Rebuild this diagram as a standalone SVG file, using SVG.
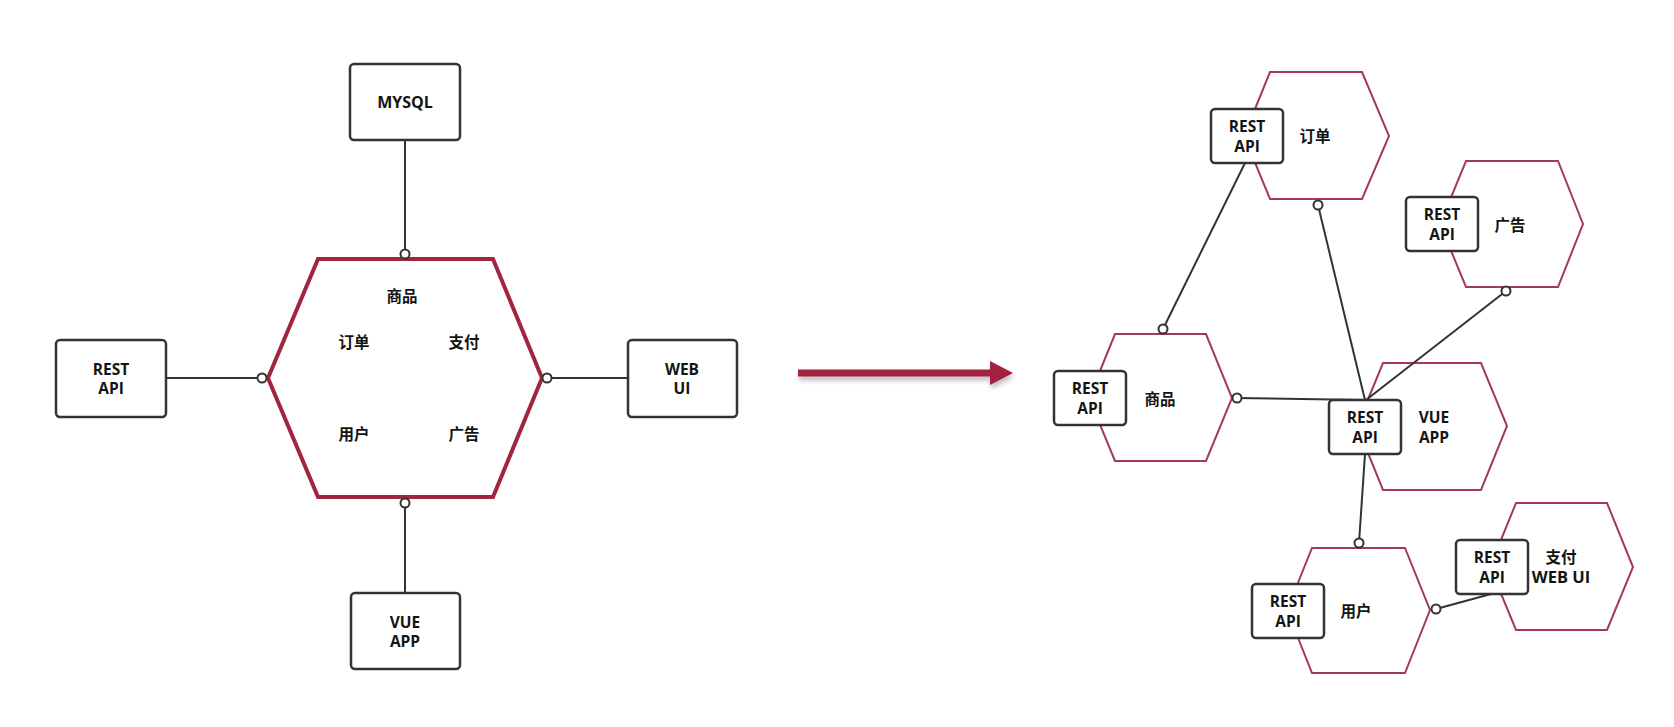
<svg xmlns="http://www.w3.org/2000/svg" width="1674" height="727" viewBox="0 0 1674 727">
  <defs>
    <style>
      .box { fill: #ffffff; stroke: #333333; stroke-width: 2.5; }
      .hex-big { fill: #ffffff; stroke: #a12440; stroke-width: 4; stroke-linejoin: miter; }
      .hex { fill: #ffffff; stroke: #a33a56; stroke-width: 2; }
      .wire { stroke: #333333; stroke-width: 2; fill: none; }
      .port { fill: #ffffff; stroke: #333333; stroke-width: 2; }
      .lbl { font-family: "Open Sans", "Noto Sans CJK SC", sans-serif; font-weight: bold; font-size: 15.5px; fill: #141414; text-anchor: middle; }
      .lbl-r { font-size: 15.5px; }
    </style>
    <filter id="softShadow" x="-10%" y="-100%" width="120%" height="300%">
      <feDropShadow dx="1" dy="4" stdDeviation="2.5" flood-color="#000000" flood-opacity="0.25"/>
    </filter>
  </defs>
  <rect width="1674" height="727" fill="#ffffff"/>

  <!-- Monolith -->
  <g id="monolith">
    <polygon class="hex-big" points="268,378 318,259 493,259 542,378 493,497 318,497"/>
    <text class="lbl" x="402" y="302">商品</text>
    <text class="lbl" x="354" y="348">订单</text>
    <text class="lbl" x="464" y="348">支付</text>
    <text class="lbl" x="354" y="440">用户</text>
    <text class="lbl" x="464" y="440">广告</text>
  </g>
  <g id="mysql">
    <rect class="box" x="350" y="64" width="110" height="76" rx="4"/>
    <text class="lbl" x="405" y="108" style="font-size:16px">MYSQL</text>
  </g>
  <g id="rest-api-left">
    <rect class="box" x="56" y="340" width="110" height="77" rx="4"/>
    <text class="lbl" x="111" y="375">REST</text>
    <text class="lbl" x="111" y="394">API</text>
  </g>
  <g id="web-ui">
    <rect class="box" x="628" y="340" width="109" height="77" rx="4"/>
    <text class="lbl" x="682" y="375">WEB</text>
    <text class="lbl" x="682" y="394">UI</text>
  </g>
  <g id="vue-app">
    <rect class="box" x="351" y="593" width="109" height="76" rx="4"/>
    <text class="lbl" x="405" y="628">VUE</text>
    <text class="lbl" x="405" y="647">APP</text>
  </g>

  <!-- Transition arrow -->
  <g id="transition" filter="url(#softShadow)">
    <line x1="798" y1="373" x2="993" y2="373" stroke="#a3213f" stroke-width="7"/>
    <polygon points="990,361 1013,373 990,385" fill="#a3213f"/>
  </g>

  <!-- Microservices -->
  <g id="svc-order">
    <polygon class="hex" points="1244,136 1270,72 1362,72 1389,136 1362,199 1270,199"/>
    <rect class="box" x="1211" y="109" width="72" height="54" rx="4"/>
    <text class="lbl lbl-r" x="1247" y="132">REST</text>
    <text class="lbl lbl-r" x="1247" y="152">API</text>
    <text class="lbl lbl-r" x="1315" y="142">订单</text>
  </g>
  <g id="svc-ads">
    <polygon class="hex" points="1440,224 1466,161 1558,161 1583,224 1558,287 1466,287"/>
    <rect class="box" x="1406" y="197" width="72" height="54" rx="4"/>
    <text class="lbl lbl-r" x="1442" y="220">REST</text>
    <text class="lbl lbl-r" x="1442" y="240">API</text>
    <text class="lbl lbl-r" x="1510" y="231">广告</text>
  </g>
  <g id="svc-product">
    <polygon class="hex" points="1089,398 1115,334 1206,334 1232,398 1206,461 1115,461"/>
    <rect class="box" x="1054" y="371" width="72" height="54" rx="4"/>
    <text class="lbl lbl-r" x="1090" y="394">REST</text>
    <text class="lbl lbl-r" x="1090" y="414">API</text>
    <text class="lbl lbl-r" x="1160" y="405">商品</text>
  </g>
  <g id="svc-vue">
    <polygon class="hex" points="1357,426 1383,363 1481,363 1507,426 1481,490 1383,490"/>
    <rect class="box" x="1329" y="400" width="72" height="54" rx="4"/>
    <text class="lbl lbl-r" x="1365" y="423">REST</text>
    <text class="lbl lbl-r" x="1365" y="443">API</text>
    <text class="lbl lbl-r" x="1434" y="423">VUE</text>
    <text class="lbl lbl-r" x="1434" y="443">APP</text>
  </g>
  <g id="svc-user">
    <polygon class="hex" points="1287,610 1312,548 1405,548 1430,610 1405,673 1312,673"/>
    <rect class="box" x="1252" y="584" width="72" height="54" rx="4"/>
    <text class="lbl lbl-r" x="1288" y="607">REST</text>
    <text class="lbl lbl-r" x="1288" y="627">API</text>
    <text class="lbl lbl-r" x="1356" y="617">用户</text>
  </g>
  <g id="svc-pay">
    <polygon class="hex" points="1490,567 1516,503 1607,503 1633,567 1607,630 1516,630"/>
    <rect class="box" x="1456" y="540" width="72" height="54" rx="4"/>
    <text class="lbl lbl-r" x="1492" y="563">REST</text>
    <text class="lbl lbl-r" x="1492" y="583">API</text>
    <text class="lbl lbl-r" x="1561" y="563">支付</text>
    <text class="lbl lbl-r" x="1561" y="583" style="font-size:16.5px">WEB UI</text>
  </g>

  <!-- Connectors -->
  <g id="connectors">
    <line class="wire" x1="405" y1="140" x2="405" y2="250"/>
    <line class="wire" x1="166" y1="378" x2="258" y2="378"/>
    <line class="wire" x1="551" y1="378" x2="628" y2="378"/>
    <line class="wire" x1="405" y1="507" x2="405" y2="593"/>

    <line class="wire" x1="1245" y1="163" x2="1163" y2="329"/>
    <line class="wire" x1="1318" y1="205" x2="1365" y2="400"/>
    <line class="wire" x1="1506" y1="291" x2="1366" y2="400"/>
    <line class="wire" x1="1237" y1="398" x2="1364" y2="400"/>
    <line class="wire" x1="1365" y1="454" x2="1359" y2="543"/>
    <line class="wire" x1="1436" y1="609" x2="1491" y2="594"/>

    <circle class="port" cx="405" cy="254" r="4.5"/>
    <circle class="port" cx="262" cy="378" r="4.5"/>
    <circle class="port" cx="547" cy="378" r="4.5"/>
    <circle class="port" cx="405" cy="503" r="4.5"/>

    <circle class="port" cx="1163" cy="329" r="4.5"/>
    <circle class="port" cx="1318" cy="205" r="4.5"/>
    <circle class="port" cx="1506" cy="291" r="4.5"/>
    <circle class="port" cx="1237" cy="398" r="4.5"/>
    <circle class="port" cx="1359" cy="543" r="4.5"/>
    <circle class="port" cx="1436" cy="609" r="4.5"/>
  </g>
</svg>
